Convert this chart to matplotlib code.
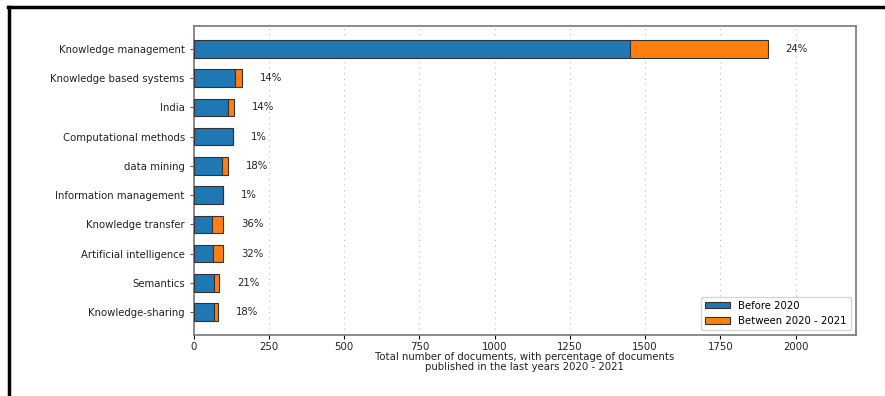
import numpy as np
import matplotlib
matplotlib.use("Agg")
import matplotlib.pyplot as plt
from matplotlib.lines import Line2D

# keywords, top to bottom
keywords = ["Knowledge management", "Knowledge based systems", "India",
            "Computational methods", "data mining", "Information management",
            "Knowledge transfer", "Artificial intelligence", "Semantics",
            "Knowledge-sharing"]
before_2020 = [1450, 138, 114, 129, 93, 96, 61, 65, 66, 66]
recent = [457, 23, 19, 1, 20, 1, 35, 31, 17, 14]
pct_labels = ["24%", "14%", "14%", "1%", "18%", "1%", "36%", "32%", "21%", "18%"]

fs = 7.3
fig = plt.figure(figsize=(8.85, 3.96), dpi=100)
ax = fig.add_axes([0.219, 0.154, 0.748, 0.78])

y = np.arange(len(keywords))[::-1]
ax.barh(y, before_2020, height=0.6, color="#1f77b4", edgecolor="#333333",
        linewidth=0.8, label="Before 2020", zorder=3)
ax.barh(y, recent, left=before_2020, height=0.6, color="#ff7f0e",
        edgecolor="#333333", linewidth=0.8, label="Between 2020 - 2021", zorder=3)

for yi, b, r, t in zip(y, before_2020, recent, pct_labels):
    ax.text(b + r + 60, yi, t, va="center", ha="left", fontsize=fs, color="#222222")

ax.set_yticks(y)
ax.set_yticklabels(keywords, fontsize=fs, color="#222222")
ax.set_xlim(0, 2200)
ax.set_xticks([0, 250, 500, 750, 1000, 1250, 1500, 1750, 2000])
ax.tick_params(axis="x", labelsize=fs, pad=2, length=3, labelcolor="#222222")
ax.tick_params(axis="y", length=3, color="#555555")
ax.grid(axis="x", linestyle=(0, (1, 4)), color="#bbbbbb", linewidth=0.8, zorder=0)
ax.set_xlabel("Total number of documents, with percentage of documents\n"
              "published in the last years 2020 - 2021", fontsize=fs, labelpad=0,
              linespacing=0.95, color="#222222")
for s in ax.spines.values():
    s.set_color("#777777")
    s.set_linewidth(1.2)
ax.legend(loc="lower right", fontsize=fs, handlelength=2.5, handleheight=0.6)

# black frame lines on top and left
fig.add_artist(Line2D([0.009, 1.0], [0.982, 0.982], color="black", lw=2.5,
                      transform=fig.transFigure))
fig.add_artist(Line2D([0.010, 0.010], [0.0, 0.982], color="black", lw=2.5,
                      transform=fig.transFigure))

fig.savefig("out.png", dpi=100)
